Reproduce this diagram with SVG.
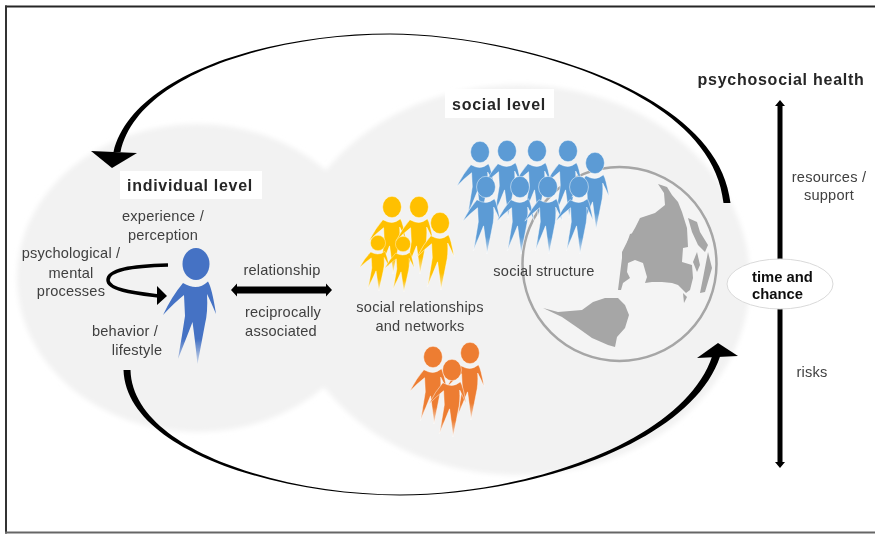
<svg xmlns="http://www.w3.org/2000/svg" width="875" height="534" viewBox="0 0 875 534">
<style>
text{font-family:"Liberation Sans",Arial,sans-serif;font-size:14.600px;letter-spacing:.2px;fill:#404040;text-anchor:middle}
text.b{font-weight:bold;fill:#262626;font-size:16px;letter-spacing:.7px}
text.c{font-weight:bold;fill:#111;font-size:14.800px;letter-spacing:0;text-anchor:start}
.lobe{fill:#f2f2f2}
.land{fill:#a6a6a6}
.ink{fill:#000}
.person{stroke:#fff;stroke-width:.7}
.soft{filter:url(#soft)}
</style>
<defs>
<filter id="blur" x="-5%" y="-5%" width="110%" height="110%"><feGaussianBlur stdDeviation="2.5"/></filter>
<filter id="soft" x="-2%" y="-2%" width="104%" height="104%"><feGaussianBlur stdDeviation="0.5"/></filter>
<linearGradient id="fDark" gradientUnits="userSpaceOnUse" x1="0" y1="75" x2="0" y2="100"><stop offset="0" stop-color="#4472c4"/><stop offset="1" stop-color="#4472c4" stop-opacity="0.2"/></linearGradient>
<linearGradient id="fBlue" gradientUnits="userSpaceOnUse" x1="0" y1="75" x2="0" y2="100"><stop offset="0" stop-color="#5b9bd5"/><stop offset="1" stop-color="#5b9bd5" stop-opacity="0.2"/></linearGradient>
<linearGradient id="fGold" gradientUnits="userSpaceOnUse" x1="0" y1="75" x2="0" y2="100"><stop offset="0" stop-color="#ffc000"/><stop offset="1" stop-color="#ffc000" stop-opacity="0.2"/></linearGradient>
<linearGradient id="fOrange" gradientUnits="userSpaceOnUse" x1="0" y1="75" x2="0" y2="100"><stop offset="0" stop-color="#ed7d31"/><stop offset="1" stop-color="#ed7d31" stop-opacity="0.2"/></linearGradient>
<g id="person">
<ellipse cx="0" cy="0" rx="13.500" ry="16"/>
<path d="M-13,19 Q-6,23 -.5,23 Q6,23 12,17.500 Q16,24 20,50 Q15,38 11,30 Q12,48 9,60 L1.500,100 Q-1,76 -3.500,58 Q-10,75 -18,95 Q-14,72 -11,52 L-12,31 Q-22,39 -33,51 Q-24,32 -13,19Z"/>
</g>
</defs>

<g id="frame">
<rect x="5" y="5.500" width="880" height="2" fill="#262626"/>
<rect x="5" y="5.500" width="2" height="528" fill="#333"/>
<rect x="5" y="531.500" width="870" height="2" fill="#666"/>
</g>

<g id="backdrop" filter="url(#blur)">
<ellipse class="lobe" cx="197" cy="278" rx="180" ry="154"/>
<ellipse class="lobe" cx="518" cy="280" rx="232" ry="195"/>
</g>

<g id="globe" class="soft">
<circle cx="619.500" cy="264" r="97" fill="#f4f4f4" stroke="#a6a6a6" stroke-width="2.500"/>
<path class="land" d="M658,184 667,187 672,195 678,202 682,212 687,228 688,247 683,248 682,262 692,265 693,278 690,290 686,293 678,285 672,283 662,282 652,282 645,283 647,277 643,263 635,260 628,263 627,272 630,278 623,283 621,290 618,290 622,258 622,252 628,240 635,228 640,218 655,213 665,205 664,193Z"/>
<path class="land" d="M543,308 558,312 582,310 593,302 605,298 618,298 625,305 629,315 625,328 617,337 615,347 608,345 592,338 578,328 562,317Z"/>
<path class="land" d="M688,218 697,222 700,232 708,245 705,252 698,245 692,232Z"/>
<path class="land" d="M708,252 712,268 705,292 700,293 703,278Z"/>
<path class="land" d="M697,252 700,265 697,272 693,262Z"/>
<path class="land" d="M683,293 687,297 684,303Z"/>
<path class="land" d="M630,234 634,233 627,243Z"/>
</g>

<g id="connectors" class="soft">
<path class="ink" d="M730.500,203 C718,85 500,33.400 390,33.400 C270,33.400 132,74 113.500,152 L120.500,152 C137,75.500 270,34.600 390,34.600 C500,34.600 712,85.500 723.500,203Z"/>
<path class="ink" d="M91,151 L137,153 L112,168Z"/>
<path class="ink" d="M123.500,370 C126.500,451 279,495.500 400,495.500 C531,495.500 698.500,442 722,350 L714,350 C691.500,439 529,494.500 400,494.500 C281,494.500 132.500,449 130.500,370Z"/>
<path class="ink" d="M697,358 L718,343 L738,356Z"/>
<path d="M168,265 C130,266 108,270 108,280 C108,290 135,293 158,296" fill="none" stroke="#000" stroke-width="3.500"/>
<path class="ink" d="M157,286 L167,296 L157,305Z"/>
<path class="ink" d="M237,283.500 L231,290 L237,296.500 V293.500 H326 V296.500 L332,290 L326,283.500 V286.500 H237Z"/>
<path class="ink" d="M777.500,106 H775 L780,100 L785,106 H782.500 V462 H785 L780,468 L775,462 H777.500Z"/>
</g>

<g id="individual-level" class="soft">
<rect x="120" y="171" width="142" height="28" fill="#fff"/>
<text class="b" x="190" y="191">individual level</text>
</g>
<g id="individual-person" class="soft">
<use href="#person" transform="translate(196,264)" fill="url(#fDark)"/>
</g>
<g id="individual-labels" class="soft">
<text x="163" y="221">experience /</text>
<text x="163" y="240">perception</text>
<text x="71" y="258">psychological /</text>
<text x="71" y="278">mental</text>
<text x="71" y="296">processes</text>
<text x="125" y="336">behavior /</text>
<text x="137" y="355">lifestyle</text>
</g>
<g id="relationship-labels" class="soft">
<text x="282" y="275">relationship</text>
<text x="283" y="317">reciprocally</text>
<text x="281" y="336">associated</text>
</g>

<g id="social-level" class="soft">
<rect x="445" y="89" width="109" height="29" fill="#fff"/>
<text class="b" x="499" y="110">social level</text>
</g>
<g id="social-structure" class="soft">
<g class="person" fill="url(#fBlue)">
<use href="#person" transform="translate(480,152) scale(.7,.67)"/>
<use href="#person" transform="translate(507,151) scale(.7,.67)"/>
<use href="#person" transform="translate(537,151) scale(.7,.67)"/>
<use href="#person" transform="translate(568,151) scale(.7,.67)"/>
<use href="#person" transform="translate(595,163) scale(.7,.67)"/>
<use href="#person" transform="translate(486,187) scale(.7,.67)"/>
<use href="#person" transform="translate(520,187) scale(.7,.67)"/>
<use href="#person" transform="translate(548,187) scale(.7,.67)"/>
<use href="#person" transform="translate(579,187) scale(.7,.67)"/>
</g>
<text x="544" y="276">social structure</text>
</g>
<g id="social-relationships" class="soft">
<g class="person" fill="url(#fGold)">
<use href="#person" transform="translate(392,207) scale(.7,.67)"/>
<use href="#person" transform="translate(419,207) scale(.7,.67)"/>
<use href="#person" transform="translate(440,223) scale(.7,.67)"/>
<use href="#person" transform="translate(378,243) scale(.56,.48)"/>
<use href="#person" transform="translate(403,244) scale(.56,.48)"/>
</g>
<text x="420" y="312">social relationships</text>
<text x="420" y="331">and networks</text>
</g>
<g id="social-networks" class="soft">
<g class="person" fill="url(#fOrange)">
<use href="#person" transform="translate(433,357) scale(.7,.67)"/>
<use href="#person" transform="translate(470,353) scale(.7,.67)"/>
<use href="#person" transform="translate(452,370) scale(.7,.67)"/>
</g>
</g>

<g id="health-scale" class="soft">
<text class="b" x="781" y="85" textLength="167">psychosocial health</text>
<text x="829" y="182">resources /</text>
<text x="829" y="200">support</text>
<text x="812" y="377">risks</text>
</g>
<g id="time-and-chance" class="soft">
<ellipse cx="780" cy="284" rx="53" ry="25" fill="#fff" stroke="#d9d9d9"/>
<text class="c" x="752" y="282">time and</text>
<text class="c" x="752" y="299">chance</text>
</g>
</svg>
